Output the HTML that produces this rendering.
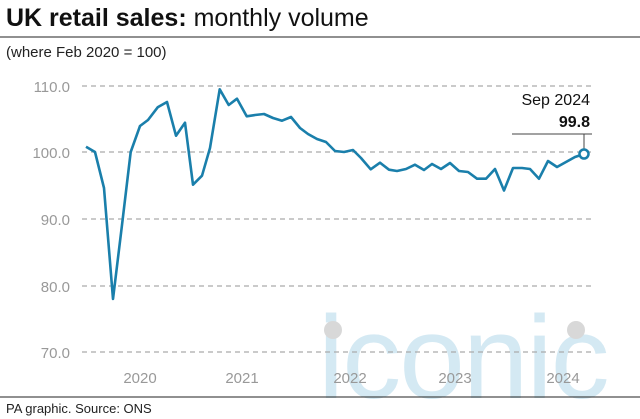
<!DOCTYPE html>
<html><head><meta charset="utf-8"><style>
body{margin:0;background:#fff;}
svg{display:block;font-family:"Liberation Sans",sans-serif;}
</style></head><body>
<svg width="640" height="419" viewBox="0 0 640 419" xmlns="http://www.w3.org/2000/svg">
<text x="6" y="26" font-size="25" fill="#111"><tspan font-weight="bold">UK retail sales:</tspan> monthly volume</text>
<line x1="0" y1="37" x2="640" y2="37" stroke="#222" stroke-width="1"/>
<text x="6" y="57" font-size="15" fill="#222">(where Feb 2020 = 100)</text>
<!-- watermark -->
<text x="318" y="398" font-size="118" fill="#d4e9f3" letter-spacing="-2">iconic</text>
<circle cx="333" cy="330" r="9" fill="#d8d8d8"/>
<circle cx="576" cy="330" r="9" fill="#d8d8d8"/>
<g stroke="#aaa" stroke-width="1.2" stroke-dasharray="5,4">
<line x1="82" y1="86" x2="592" y2="86"/>
<line x1="82" y1="152" x2="592" y2="152"/>
<line x1="82" y1="219" x2="592" y2="219"/>
<line x1="82" y1="286" x2="592" y2="286"/>
<line x1="82" y1="352" x2="592" y2="352"/>
</g>
<g font-size="15" fill="#999" text-anchor="end">
<text x="70" y="92">110.0</text>
<text x="70" y="158">100.0</text>
<text x="70" y="225">90.0</text>
<text x="70" y="292">80.0</text>
<text x="70" y="358">70.0</text>
</g>
<g font-size="15" fill="#999" text-anchor="middle">
<text x="140" y="383">2020</text>
<text x="242" y="383">2021</text>
<text x="350" y="383">2022</text>
<text x="455" y="383">2023</text>
<text x="563" y="383">2024</text>
</g>
<polyline fill="none" stroke="#1a7fab" stroke-width="2.6" stroke-linejoin="round" points="86,146.7 95,152 104,188 113,299 122,225 130.7,152 140,126 148,120 157.7,107.3 167,102 176,135.7 185,122.7 193,184.7 202,175.7 210,148 219.7,89.3 228.7,105 237,98.7 246.7,116.3 255,115 264,114 273,118 282,120.7 291,117 300,128 308,134 317,139 326,142 335,151 344,152 353,150 361,158 370.7,169.3 380,162.7 389,169.7 397,171 406,169 415,164.7 424,170 432,164 441,169 450,163 459,171 468,172 477,178.7 486,178.7 495,169 504,190.5 513,168 522,168 530,169 539,178.7 548,161 557,167 566,162 575,157 584,154"/>
<line x1="512" y1="134" x2="592" y2="134" stroke="#444" stroke-width="1"/>
<line x1="584" y1="134" x2="584" y2="149" stroke="#444" stroke-width="1"/>
<circle cx="584" cy="154" r="4.5" fill="#fff" stroke="#1a7fab" stroke-width="2.5"/>
<text x="590" y="105" font-size="16" fill="#111" text-anchor="end">Sep 2024</text>
<text x="590" y="127" font-size="16" font-weight="bold" fill="#111" text-anchor="end">99.8</text>
<line x1="0" y1="397" x2="640" y2="397" stroke="#222" stroke-width="1"/>
<text x="6" y="413" font-size="13" fill="#222">PA graphic. Source: ONS</text>
</svg>
</body></html>
